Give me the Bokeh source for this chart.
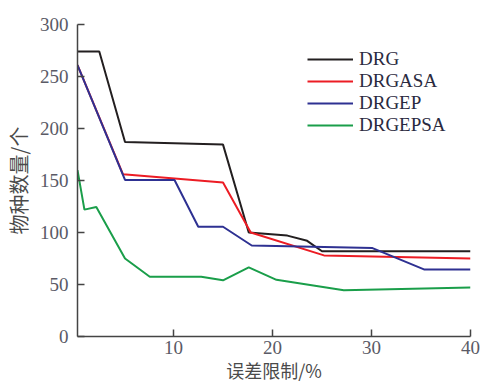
from bokeh.plotting import figure
from bokeh.models import Range1d, FixedTicker, Legend, LegendItem
from bokeh.embed import file_html
from bokeh.resources import INLINE

# data
drg_x = [0.3, 2.5, 5.1, 15.0, 17.6, 21.5, 23.5, 25.0, 40.0]
drg_y = [274, 274, 187, 184.5, 100, 97, 92, 82, 82]
drgasa_x = [0.3, 4.9, 15.0, 17.8, 25.2, 40.0]
drgasa_y = [261, 156, 148, 100, 78, 75]
drgep_x = [0.3, 5.1, 10.1, 12.5, 15.0, 17.9, 30.1, 35.3, 40.0]
drgep_y = [261, 150.5, 150.5, 105.5, 105.5, 87.5, 85, 64.5, 64.5]
drgepsa_x = [0.3, 1.0, 2.2, 5.1, 7.6, 12.8, 15.0, 17.6, 20.4, 27.2, 40.0]
drgepsa_y = [160, 122, 124.5, 75, 57.5, 57.5, 54, 66.5, 54.5, 44.5, 47]

names = ["DRG", "DRGASA", "DRGEP", "DRGEPSA"]
colors = ["#231f20", "#ec1c24", "#2e3192", "#1a9e4a"]
x_ticks = [10, 20, 30, 40]
y_ticks = [0, 50, 100, 150, 200, 250, 300]

p = figure(width=484, height=387, output_backend="svg", toolbar_location=None,
           x_range=Range1d(0.3, 40), y_range=Range1d(0, 300),
           min_border_left=77, min_border_right=14, min_border_top=24, min_border_bottom=51)
p.outline_line_color = None
p.xgrid.visible = False
p.ygrid.visible = False
p.background_fill_color = "white"

series = [(drg_x, drg_y), (drgasa_x, drgasa_y), (drgep_x, drgep_y), (drgepsa_x, drgepsa_y)]
renderers = []
for (xs, ys), c in zip(series, colors):
    r = p.line(xs, ys, line_color=c, line_width=2)
    renderers.append(r)

for ax in (p.xaxis[0], p.yaxis[0]):
    ax.axis_line_color = "#444444"
    ax.axis_line_width = 1.5
    ax.major_tick_line_color = "#444444"
    ax.major_tick_line_width = 1.5
    ax.major_tick_in = 7
    ax.major_tick_out = 0
    ax.minor_tick_line_color = None
    ax.major_label_text_font = "Liberation Serif"
    ax.major_label_text_font_size = "19px"
    ax.major_label_text_color = "#5a5a66"
    ax.axis_label_text_font = "Noto Sans CJK SC"
    ax.axis_label_text_font_style = "normal"
    ax.axis_label_text_color = "#4a4a4a"

p.xaxis[0].axis_label_text_font_size = "18px"
p.yaxis[0].axis_label_text_font_size = "20px"
p.xaxis[0].ticker = FixedTicker(ticks=x_ticks)
p.yaxis[0].ticker = FixedTicker(ticks=y_ticks)
p.xaxis[0].major_label_standoff = 4
p.yaxis[0].major_label_standoff = 9
p.xaxis[0].axis_label = "误差限制/%"
p.yaxis[0].axis_label = "物种数量/个"
p.xaxis[0].axis_label_standoff = 0
p.yaxis[0].axis_label_standoff = 4

# one single-entry legend per series so the row pitch matches the original
legend_y = [266, 244, 222, 200]
for n, r, ly in zip(names, renderers, legend_y):
    legend = Legend(items=[LegendItem(label=n, renderers=[r])], location=(230, ly),
                    padding=0, margin=0, spacing=0,
                    glyph_width=46, glyph_height=20, label_height=20, label_standoff=6,
                    label_text_font="Liberation Serif", label_text_font_size="19px",
                    label_text_color="#2a2a40", label_text_line_height=1.0,
                    border_line_alpha=0, background_fill_alpha=0)
    p.add_layout(legend)

open("out.html", "w").write(file_html(p, INLINE))
